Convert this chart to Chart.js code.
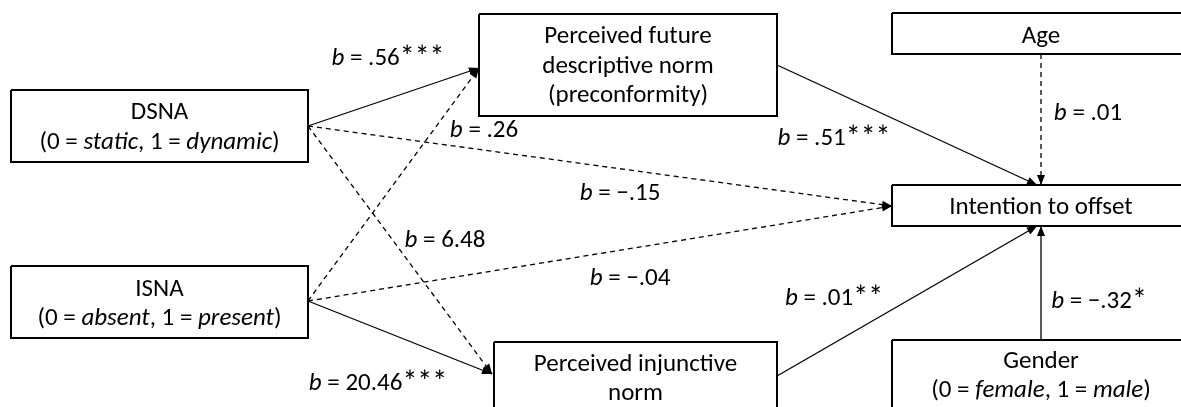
<!DOCTYPE html>
<html>
<head>
<meta charset="utf-8">
<script src="https://cdn.jsdelivr.net/npm/chart.js@4.4.1/dist/chart.umd.min.js"></script>
<style>
  html, body { margin: 0; padding: 0; background: #ffffff; }
  #wrap { width: 1181px; height: 407px; position: relative; }
</style>
</head>
<body>
<div id="wrap"><canvas id="c" width="1181" height="407"></canvas></div>
<script>
// ---- Diagram data (values in diagram coordinate space) ----
// Variable boxes
const boxNames = ['DSNA', 'ISNA', 'future', 'injunctive', 'age', 'intention', 'gender'];
const boxLeft   = [11, 11, 479, 494, 892, 892, 892];
const boxRight  = [308, 308, 777, 777, 1190, 1190, 1190];
const boxTop    = [90, 266, 14, 342, 13, 185, 340];
const boxBottom = [162, 338, 116, 440, 54, 226, 440];
// Box text: lines made of [text, italic] segments
const boxLines = [
  [[['DSNA', 0]], [['(0 = ', 0], ['static', 1], [', 1 = ', 0], ['dynamic', 1], [')', 0]]],
  [[['ISNA', 0]], [['(0 = ', 0], ['absent', 1], [', 1 = ', 0], ['present', 1], [')', 0]]],
  [[['Perceived future', 0]], [['descriptive norm', 0]], [['(preconformity)', 0]]],
  [[['Perceived injunctive', 0]], [['norm', 0]]],
  [[['Age', 0]]],
  [[['Intention to offset', 0]]],
  [[['Gender', 0]], [['(0 = ', 0], ['female', 1], [', 1 = ', 0], ['male', 1], [')', 0]]]
];
const boxBaselines = [
  [119, 149],
  [296, 325],
  [43, 73, 102],
  [371, 400],
  [43],
  [214],
  [368, 397]
];

// Paths (from -> to), dashed = non-significant
const pathX0 = [308, 308, 308, 308, 308, 308, 777, 1041, 777, 1041];
const pathY0 = [126, 126, 126, 301, 301, 301, 65, 54, 376, 340];
const pathX1 = [479, 492, 892, 479, 492, 892, 1037, 1041, 1037, 1041];
const pathY1 = [68, 374, 206, 68, 374, 206, 185, 185, 226, 226];
const pathDashed = [false, true, true, true, false, true, false, true, false, false];

// Coefficients (value, significance stars)
const coefValues = ['.56', '.26', '\u2212.15', '6.48', '20.46', '\u2212.04', '.51', '.01', '.01', '\u2212.32'];
const coefStars  = ['***', '', '', '', '***', '', '***', '', '**', '*'];
const coefX = [388, 484, 620, 445, 378, 630, 834, 1088, 834, 1099];
const coefY = [65, 137, 200, 247, 390, 285, 145, 120, 305, 308];

// ---- Chart ----
const FONT = 'Carlito, Lato, "Open Sans", sans-serif';
const FSIZE = 25;

const datasets = [];
for (let i = 0; i < pathX0.length; i++) {
  datasets.push({
    type: 'line',
    data: [{x: pathX0[i], y: pathY0[i]}, {x: pathX1[i], y: pathY1[i]}],
    borderColor: '#000',
    borderWidth: 1.3,
    borderDash: pathDashed[i] ? [5, 4] : [],
    pointRadius: 0,
    fill: false,
    tension: 0
  });
}
for (let i = 0; i < boxNames.length; i++) {
  datasets.push({
    type: 'line',
    data: [
      {x: boxLeft[i], y: boxTop[i]}, {x: boxRight[i], y: boxTop[i]},
      {x: boxRight[i], y: boxBottom[i]}, {x: boxLeft[i], y: boxBottom[i]},
      {x: boxLeft[i], y: boxTop[i]}
    ],
    borderColor: '#000',
    borderWidth: 2,
    pointRadius: 0,
    fill: false,
    tension: 0,
    borderJoinStyle: 'miter'
  });
}

// segment: [text, italic, sizeScale, baselineShift]
function segFont(s) {
  const size = FSIZE * (s[2] || 1);
  return (s[1] ? 'italic ' : '') + size + 'px ' + FONT;
}
function drawRich(ctx, segs, cx, by) {
  let total = 0;
  const widths = segs.map(s => {
    ctx.font = segFont(s);
    const w = ctx.measureText(s[0]).width;
    total += w;
    return w;
  });
  let x = cx - total / 2;
  segs.forEach((s, k) => {
    ctx.font = segFont(s);
    ctx.fillText(s[0], x, by + (s[3] || 0));
    x += widths[k];
  });
}

const diagramPlugin = {
  id: 'diagram',
  afterDatasetsDraw(chart) {
    const ctx = chart.ctx;
    const xs = chart.scales.x, ys = chart.scales.y;
    ctx.save();
    ctx.fillStyle = '#000';
    ctx.textBaseline = 'alphabetic';
    ctx.textAlign = 'left';
    // arrowheads
    for (let i = 0; i < pathX0.length; i++) {
      const x0 = xs.getPixelForValue(pathX0[i]), y0 = ys.getPixelForValue(pathY0[i]);
      const x1 = xs.getPixelForValue(pathX1[i]), y1 = ys.getPixelForValue(pathY1[i]);
      const a = Math.atan2(y1 - y0, x1 - x0);
      const L = 10, W = 4;
      ctx.beginPath();
      ctx.moveTo(x1, y1);
      ctx.lineTo(x1 - L * Math.cos(a) + W * Math.sin(a), y1 - L * Math.sin(a) - W * Math.cos(a));
      ctx.lineTo(x1 - L * Math.cos(a) - W * Math.sin(a), y1 - L * Math.sin(a) + W * Math.cos(a));
      ctx.closePath();
      ctx.fill();
    }
    // box texts
    for (let i = 0; i < boxNames.length; i++) {
      const cx = xs.getPixelForValue((boxLeft[i] + boxRight[i]) / 2);
      boxLines[i].forEach((segs, k) => {
        drawRich(ctx, segs, cx, ys.getPixelForValue(boxBaselines[i][k]));
      });
    }
    // coefficients
    for (let i = 0; i < coefValues.length; i++) {
      const segs = [['b', 1], [' = ' + coefValues[i], 0]];
      if (coefStars[i]) segs.push([coefStars[i], 0, 1.2, 2]);
      drawRich(ctx, segs, xs.getPixelForValue(coefX[i]), ys.getPixelForValue(coefY[i]));
    }
    ctx.restore();
  }
};

new Chart(document.getElementById('c'), {
  type: 'scatter',
  data: { datasets },
  options: {
    responsive: false,
    devicePixelRatio: 1,
    animation: false,
    layout: { padding: 0 },
    plugins: { legend: { display: false }, tooltip: { enabled: false } },
    scales: {
      x: { type: 'linear', min: 0, max: 1181, display: false },
      y: { type: 'linear', min: 0, max: 407, reverse: true, display: false }
    }
  },
  plugins: [diagramPlugin]
});
</script>
</body>
</html>
